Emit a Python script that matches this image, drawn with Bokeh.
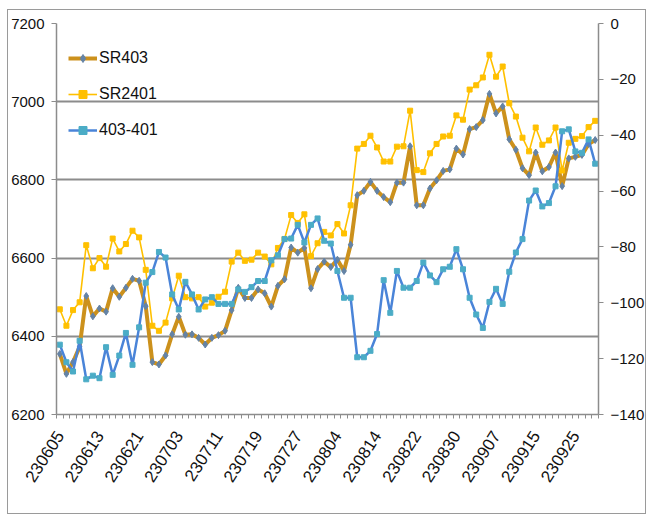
from bokeh.plotting import figure
from bokeh.models import Range1d, LinearAxis, FixedTicker, Legend, LegendItem
from bokeh.embed import file_html
from bokeh.resources import INLINE

dates = [
    "230605", "230606", "230607", "230608", "230609", "230612", "230613", "230614", "230615", "230616",
    "230619", "230620", "230621", "230626", "230627", "230628", "230629", "230630",
    "230703", "230704", "230705", "230706", "230707", "230710", "230711", "230712", "230713", "230714",
    "230717", "230718", "230719", "230720", "230721", "230724", "230725", "230726", "230727", "230728", "230731",
    "230801", "230802", "230803", "230804", "230807", "230808", "230809", "230810", "230811", "230814",
    "230815", "230816", "230817", "230818", "230821", "230822", "230823", "230824", "230825", "230828",
    "230829", "230830", "230831",
    "230901", "230904", "230905", "230906", "230907", "230908", "230911", "230912", "230913", "230914",
    "230915", "230918", "230919", "230920", "230921", "230922", "230925", "230926", "230927", "230928",
]

sr403 = [6355, 6304, 6334, 6373, 6503, 6451, 6471, 6463, 6523, 6501, 6524, 6547, 6542, 6477, 6334, 6328, 6351, 6405, 6450, 6404,
         6405, 6396, 6379, 6396, 6403, 6414, 6467, 6524, 6498, 6498, 6520, 6510, 6476, 6529, 6546, 6627, 6614, 6626, 6523, 6572,
         6591, 6577, 6596, 6567, 6634, 6761, 6772, 6795, 6772, 6756, 6743, 6793, 6793, 6886, 6735, 6735, 6778, 6799, 6823, 6827, 6880,
         6865, 6930, 6935, 6953, 7020, 6970, 6988, 6904, 6877, 6830, 6812, 6870, 6822, 6833, 6870, 6784, 6855, 6859, 6864, 6892, 6902]

sr2401 = [6469, 6427, 6467, 6487, 6633, 6574, 6600, 6578, 6650, 6617, 6636, 6670, 6653, 6570, 6427, 6414, 6435, 6497, 6555, 6500,
          6497, 6500, 6476, 6486, 6501, 6514, 6591, 6614, 6593, 6596, 6614, 6604, 6584, 6626, 6649, 6710, 6690, 6712, 6605, 6638,
          6667, 6658, 6687, 6663, 6735, 6880, 6892, 6913, 6883, 6847, 6847, 6885, 6886, 6977, 6825, 6820, 6868, 6892, 6911, 6913, 6965,
          6954, 7031, 7042, 7062, 7120, 7064, 7090, 6996, 6962, 6908, 6873, 6934, 6890, 6901, 6934, 6824, 6895, 6905, 6912, 6935, 6951]

spread = [-115.0, -121.3, -124.6, -113.6, -127.4, -126.1, -127.0, -115.9, -125.8, -118.9, -110.8, -122.2, -108.8, -92.8, -89.0, -81.8, -83.8, -97.0, -102.4, -92.5,
          -97.0, -102.4, -98.8, -98.0, -100.4, -100.4, -100.4, -95.2, -96.1, -94.4, -92.2, -92.2, -84.8, -83.0, -77.2, -77.0, -72.1, -78.4, -72.1, -69.8,
          -77.8, -78.8, -88.6, -98.2, -98.2, -119.5, -119.5, -117.2, -111.2, -91.9, -103.6, -88.6, -94.6, -94.6, -92.2, -85.6, -90.2, -92.6, -88.0, -87.1, -80.8,
          -88.0, -98.2, -104.2, -109.0, -99.7, -95.0, -100.4, -88.9, -82.0, -77.2, -63.4, -59.8, -65.5, -64.3, -58.3, -38.6, -37.9, -45.8, -46.3, -41.5, -50.2]

left_ticks = [6200, 6400, 6600, 6800, 7000, 7200]
right_ticks = [-140, -120, -100, -80, -60, -40, -20, 0]
label_step = 6

FONT = "Liberation Sans"
TXT = "#111111"
GRID = "#8c8c8c"

n = len(dates)
x = list(range(n))

p = figure(width=637, height=503,
           x_range=Range1d(-0.5, n - 0.5), y_range=Range1d(left_ticks[0], left_ticks[-1]),
           output_backend="svg", toolbar_location=None,
           min_border_left=48, min_border_right=43, min_border_top=13, min_border_bottom=101)
p.styles = {"border": "1px solid #9a9a9a", "box-sizing": "content-box",
            "margin-left": "7px", "margin-top": "9px"}
p.outline_line_color = None
p.background_fill_color = "white"
p.border_fill_alpha = 0

p.extra_y_ranges = {"r": Range1d(right_ticks[0], right_ticks[-1])}

# bottom axis
label_idx = list(range(0, n, label_step))
xa = p.xaxis[0]
xa.ticker = FixedTicker(ticks=label_idx, minor_ticks=[i - 0.5 for i in range(n + 1)])
xa.major_label_overrides = {i: dates[i] for i in label_idx}
xa.major_label_orientation = 1.0
xa.major_tick_out = 0
xa.major_tick_in = 0
xa.minor_tick_out = 4
xa.minor_tick_in = 0
xa.minor_tick_line_color = GRID
xa.axis_line_color = GRID
xa.axis_line_width = 1.5
xa.major_label_text_font = FONT
xa.major_label_text_font_size = "17px"
xa.major_label_text_color = TXT
xa.major_label_standoff = 14

# left axis
ya = p.yaxis[0]
ya.ticker = FixedTicker(ticks=left_ticks)
ya.major_tick_out = 5
ya.major_tick_in = 0
ya.minor_tick_out = 0
ya.minor_tick_in = 0
ya.major_tick_line_color = GRID
ya.axis_line_color = GRID
ya.axis_line_width = 1.5
ya.major_label_text_font = FONT
ya.major_label_text_font_size = "15px"
ya.major_label_text_color = TXT
ya.major_label_standoff = 7

# right axis
ra = LinearAxis(y_range_name="r", ticker=FixedTicker(ticks=right_ticks))
ra.major_tick_out = 5
ra.major_tick_in = 0
ra.minor_tick_out = 0
ra.minor_tick_in = 0
ra.major_tick_line_color = GRID
ra.axis_line_color = GRID
ra.axis_line_width = 1.5
ra.major_label_text_font = FONT
ra.major_label_text_font_size = "15px"
ra.major_label_text_color = TXT
ra.major_label_standoff = 7
p.add_layout(ra, "right")

p.xgrid.grid_line_color = None
p.ygrid.ticker = FixedTicker(ticks=left_ticks)
p.ygrid.grid_line_color = GRID
p.ygrid.grid_line_width = 2

# series
l1 = p.line(x, sr403, line_color="#CC911C", line_width=4)
m1 = p.scatter(x, sr403, marker="diamond", size=7, fill_color="#6483A6", line_color="#6483A6")
l2 = p.line(x, sr2401, line_color="#FFC000", line_width=1.6)
m2 = p.scatter(x, sr2401, marker="square", size=5, fill_color="#FFC000", line_color="#FFC000")
l3 = p.line(x, spread, line_color="#4A84D8", line_width=2.5, y_range_name="r")
m3 = p.scatter(x, spread, marker="square", size=5, fill_color="#4BACC6", line_color="#4BACC6", y_range_name="r")

legend = Legend(items=[
    LegendItem(label="SR403", renderers=[l1, m1]),
    LegendItem(label="SR2401", renderers=[l2, m2]),
    LegendItem(label="403-401", renderers=[l3, m3]),
], location=(12, 274))
legend.background_fill_alpha = 0
legend.border_line_color = None
legend.padding = 0
legend.margin = 0
legend.glyph_width = 29
legend.glyph_height = 20
legend.label_height = 20
legend.spacing = 16
legend.label_standoff = 2
legend.label_text_font = FONT
legend.label_text_font_size = "16px"
legend.label_text_color = TXT
p.add_layout(legend, "center")

open("out.html", "w").write(file_html(p, INLINE))
